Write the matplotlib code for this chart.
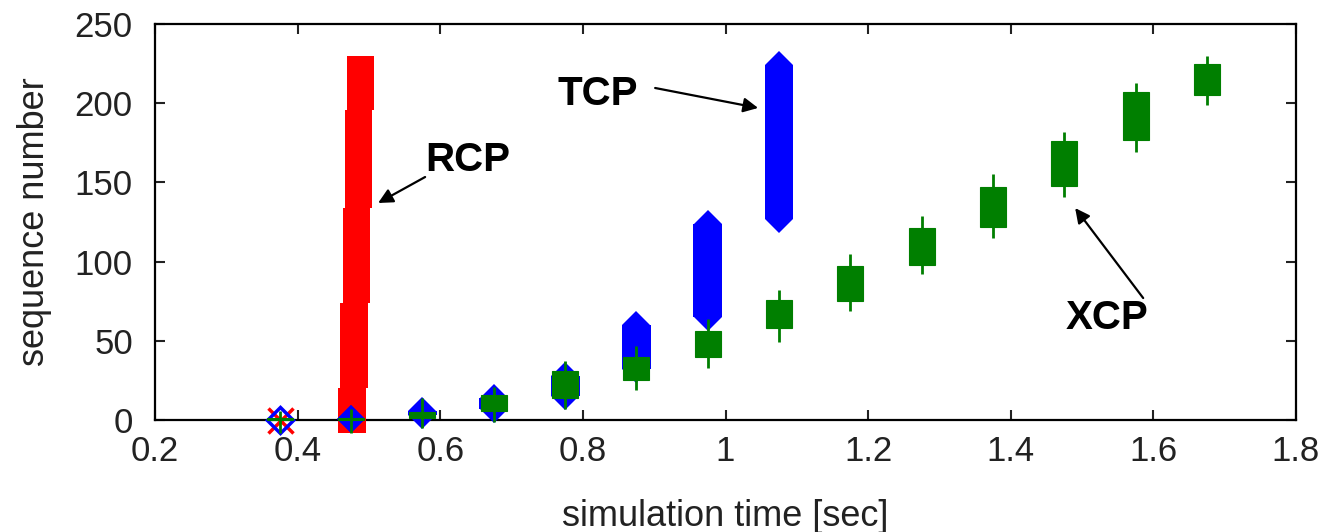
import matplotlib
matplotlib.use("Agg")
import matplotlib.pyplot as plt

# RCP: one burst, drawn as a few short steps (time, seq range)
rcp_time = [0.4759, 0.4793, 0.4823, 0.4853, 0.4878]
rcp_lo = [0, 20, 74, 134, 196]
rcp_hi = [20, 74, 134, 196, 222]
rcp_syn_t = 0.375
rcp_syn_seq = 0

# TCP: packets sent in each RTT (first / last sequence number)
tcp_t = [0.375, 0.475, 0.575, 0.675, 0.775, 0.875, 0.975, 1.075]
tcp_lo = [0, 0.6, 3, 7, 15, 32, 65, 127]
tcp_hi = [0, 0.6, 6, 14, 28, 60, 124, 224]

# XCP: box = packets in the RTT, whiskers = spread
xcp_t = [0.375, 0.475, 0.575, 0.675, 0.775, 0.875, 0.975, 1.075,
         1.175, 1.275, 1.375, 1.475, 1.575, 1.675]
xcp_box_lo = [0, 0, 1.5, 6, 14, 25, 40, 58, 75, 98, 122, 148, 177, 205]
xcp_box_hi = [1, 1, 5, 16, 31, 40, 56, 76, 97, 121, 147, 176, 207, 225]
xcp_wlo = [-8, -8, -5, -1, 7, 19, 33, 49, 69, 92, 115, 141, 169, 199]
xcp_whi = [6, 7, 14, 21, 37, 47, 64, 82, 105, 129, 155, 182, 213, 230]

x_ticks = [0.2, 0.4, 0.6, 0.8, 1.0, 1.2, 1.4, 1.6, 1.8]
x_ticklabels = ["0.2", "0.4", "0.6", "0.8", "1", "1.2", "1.4", "1.6", "1.8"]
y_ticks = [0, 50, 100, 150, 200, 250]

RED = "#ff0000"
BLUE = "#0000ff"
GREEN = "#007f00"
TXT = "#222222"

plt.rcParams["font.family"] = ["Liberation Sans", "DejaVu Sans"]

fig = plt.figure(figsize=(13.31, 5.32), dpi=100)
ax = fig.add_axes([0.1165, 0.2105, 0.8572, 0.7444])

# RCP - the x markers are ~8 seq units tall, so the column reaches past the ends
mpad = 8
r_lo = list(rcp_lo)
r_hi = list(rcp_hi)
r_lo[0] -= mpad
r_hi[-1] += mpad
ax.bar(rcp_time, [h - l for l, h in zip(r_lo, r_hi)], bottom=r_lo,
       width=0.0386, color=RED, linewidth=0, zorder=3, clip_on=False)
ax.plot([rcp_syn_t], [rcp_syn_seq], "x", color=RED, ms=18, mew=2.5,
        zorder=3, clip_on=False)

# TCP
ax.plot([tcp_t[0]], [tcp_lo[0]], "D", mfc="none", mec=BLUE, ms=13, mew=2.5,
        zorder=4, clip_on=False)
ax.bar(tcp_t[1:], [h - l for l, h in zip(tcp_lo[1:], tcp_hi[1:])],
       bottom=tcp_lo[1:], width=0.0405, color=BLUE, linewidth=0,
       zorder=4, clip_on=False)
ax.plot(tcp_t[1:] + tcp_t[1:], tcp_lo[1:] + tcp_hi[1:], "D", color=BLUE,
        ms=14.3, mew=0, linestyle="none", zorder=4, clip_on=False)

# XCP
ax.vlines(xcp_t, xcp_wlo, xcp_whi, color=GREEN, linewidth=2, zorder=5,
          clip_on=False)
ax.bar(xcp_t, [h - l for l, h in zip(xcp_box_lo, xcp_box_hi)],
       bottom=xcp_box_lo, width=0.0365, color=GREEN, edgecolor=GREEN,
       linewidth=0.8, zorder=5, clip_on=False)

# labels with arrows
arrow = dict(arrowstyle="-|>", color="black", lw=1.6, mutation_scale=22,
             shrinkA=0, shrinkB=0)
ax.text(0.638, 164, "RCP", fontsize=29, fontweight="bold", ha="center",
        va="center", zorder=6)
ax.annotate("", xy=(0.5128, 137), xytext=(0.5787, 153.4), arrowprops=arrow)
ax.text(0.821, 205.8, "TCP", fontsize=29, fontweight="bold", ha="center",
        va="center", zorder=6)
ax.annotate("", xy=(1.0457, 197), xytext=(0.9013, 209.6), arrowprops=arrow)
ax.text(1.535, 64.4, "XCP", fontsize=29, fontweight="bold", ha="center",
        va="center", zorder=6)
ax.annotate("", xy=(1.4903, 133.8), xytext=(1.5857, 77), arrowprops=arrow)

ax.set_xlim(0.2, 1.8)
ax.set_ylim(0, 250)
ax.set_xticks(x_ticks)
ax.set_xticklabels(x_ticklabels)
ax.set_yticks(y_ticks)
ax.tick_params(direction="in", length=7, width=1.5, labelsize=25,
               top=True, right=True, colors=TXT)
ax.tick_params(axis="x", pad=11)
ax.tick_params(axis="y", pad=16)
for s in ax.spines.values():
    s.set_linewidth(1.6)

ax.set_xlabel("simulation time [sec]", fontsize=26, color=TXT, labelpad=22)
ax.set_ylabel("sequence number", fontsize=26, color=TXT, labelpad=16)

fig.savefig("out.png", dpi=100)
